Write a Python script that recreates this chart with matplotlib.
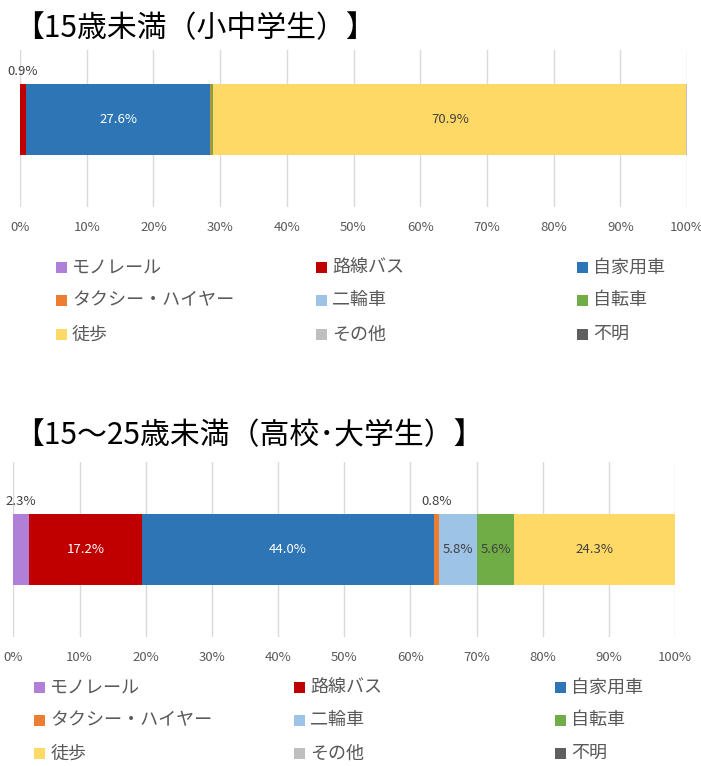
import matplotlib
matplotlib.use('Agg')
import matplotlib.pyplot as plt
from matplotlib.patches import Rectangle

plt.rcParams['font.family'] = ['Noto Sans CJK JP', 'DejaVu Sans']

# ---------------- data ----------------
categories = ['モノレール', '路線バス', '自家用車', 'タクシー・ハイヤー', '二輪車',
              '自転車', '徒歩', 'その他', '不明']
under15 = [0.0, 0.9, 27.6, 0.2, 0.0, 0.3, 70.9, 0.1, 0.0]
age15_25 = [2.3, 17.2, 44.0, 0.8, 5.8, 5.6, 24.3, 0.0, 0.2]
titles = ['【15歳未満（小中学生）】', '【15～25歳未満（高校･大学生）】']
xticks = [0, 10, 20, 30, 40, 50, 60, 70, 80, 90, 100]
xticklabels = ['0%', '10%', '20%', '30%', '40%', '50%', '60%', '70%', '80%', '90%', '100%']

# ---------------- style ----------------
colors = ['#B07FD8', '#C00000', '#2E75B6', '#ED7D31', '#9DC3E6',
          '#70AD47', '#FFD966', '#BFBFBF', '#5F5F5F']
label_colors = ['#404040', 'white', 'white', '#404040', '#404040',
                '#404040', '#404040', '#404040', 'white']

W, H = 701, 766
fig = plt.figure(figsize=(W / 100, H / 100), dpi=100)


def fx(px):
    return px / W


def fy(py):
    return 1 - py / H


charts = [
    dict(values=under15, title=titles[0], title_xy=(14, 28.5),
         ax_px=(20, 50, 687, 207), ylim=(-0.616, 0.489),
         leg_x=[56.0, 316.0, 577.0], leg_y=[267.7, 300.3, 334.3]),
    dict(values=age15_25, title=titles[1], title_xy=(14, 435.5),
         ax_px=(13.5, 462, 675, 637), ylim=(-0.616, 0.616),
         leg_x=[34.4, 294.0, 555.0], leg_y=[687.7, 720.0, 753.3]),
]

bar_h = 0.5
for ch in charts:
    l, t, r, b = ch['ax_px']
    ax = fig.add_axes([fx(l), fy(b), fx(r) - fx(l), fy(t) - fy(b)])
    vals = ch['values']
    left = 0.0
    for i, v in enumerate(vals):
        if v > 0:
            ax.barh(0, v, left=left, height=bar_h, color=colors[i], zorder=3)
        c = left + v / 2
        if v >= 0.5:
            lab = f'{v:.1f}%'
            if v >= 3:
                ax.text(c, 0, lab, ha='center', va='center', fontsize=9.5,
                        color=label_colors[i], zorder=4)
            else:
                ax.annotate(lab, xy=(c, bar_h / 2), xytext=(0, 9),
                            textcoords='offset points', ha='center', va='center',
                            fontsize=9.5, color='#404040', zorder=4)
        left += v
    ax.set_xlim(0, 100)
    ax.set_ylim(*ch['ylim'])
    ax.set_xticks(xticks)
    ax.set_xticklabels(xticklabels)
    ax.set_yticks([])
    ax.tick_params(axis='x', length=0, pad=10, labelsize=9.5, labelcolor='#595959')
    ax.grid(axis='x', color='#D9D9D9', linewidth=1, zorder=0)
    for s in ax.spines.values():
        s.set_visible(False)

    # title
    tx, ty = ch['title_xy']
    fig.text(fx(tx), fy(ty), ch['title'], fontsize=21.5, va='center', ha='left',
             color='black')

    # legend (row-major, 3 columns)
    sq = 11
    for i, name in enumerate(categories):
        row, col = divmod(i, 3)
        mx = ch['leg_x'][col]
        my = ch['leg_y'][row]
        fig.patches.append(Rectangle((fx(mx), fy(my + sq / 2)), sq / W, sq / H,
                                     transform=fig.transFigure,
                                     facecolor=colors[i], edgecolor='none'))
        fig.text(fx(mx + sq + 5), fy(my), name, fontsize=13, va='center',
                 ha='left', color='#595959')

fig.savefig('out.png', dpi=100)
